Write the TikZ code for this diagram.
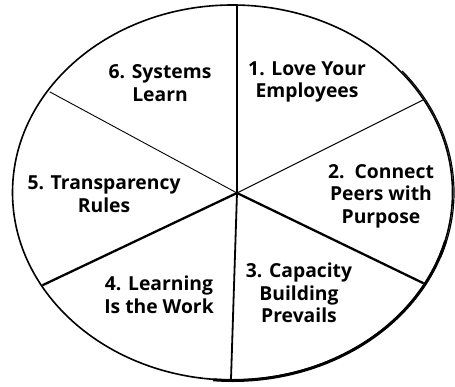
\documentclass[tikz,border=0pt]{standalone}
\usepackage{fontspec}
\setmainfont{Open Sans}
\begin{document}
\begin{tikzpicture}[x=1pt,y=-1pt,
  lbl/.style={font=\fontsize{19.3}{22.5}\selectfont\bfseries, align=center, inner sep=0pt},
  spoke/.style={draw=black, line cap=round}]
\useasboundingbox (0,0) rectangle (455,387);
% outline
\draw[line width=1.6pt] (232.5,192.5) ellipse [x radius=220, y radius=187.5];
\draw[line width=3pt] (232.5,192.5) ++(15:220.5 and 188) arc[start angle=15, end angle=95, x radius=220.5, y radius=188];
\draw[line width=1.2pt] (232.5,192.5) ++(-40:221.5 and 189) arc[start angle=-40, end angle=20, x radius=221.5, y radius=189];
% spokes
\coordinate (c) at (237,193);
\coordinate (top) at (237,5);
\coordinate (bot) at (231,379);
\coordinate (ul) at (50,92);
\coordinate (ur) at (423,100);
\coordinate (lr) at (423,283);
\coordinate (ll) at (43,285);
\draw[spoke, line width=1.5pt] (c) -- (top);
\draw[spoke, line width=1.8pt] (c) -- (bot);
\draw[spoke, line width=0.9pt] (c) -- (ul);
\draw[spoke, line width=1.1pt] (c) -- (ur);
\draw[spoke, line width=2.3pt] (c) -- (lr);
\draw[spoke, line width=2.3pt] (c) -- (ll);
% labels
\node[lbl] (t1) at (307,82) {1. Love Your\\Employees};
\node[lbl] (t2) at (381,196) {2.\ \ Connect\\Peers with\\Purpose};
\node[lbl] (t3) at (299,293) {3. Capacity\\Building\\Prevails};
\node[lbl] (t4) at (159,295) {4. Learning\\Is the Work};
\node[lbl] (t5) at (104,194) {5. Transparency\\Rules};
\node[lbl] (t6) at (160,83) {6. Systems\\Learn};
\end{tikzpicture}
\end{document}
